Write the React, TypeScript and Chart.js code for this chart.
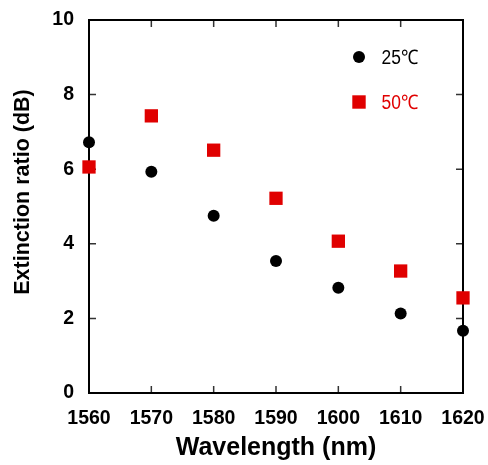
import { useEffect, useRef } from "react";
import { Chart, registerables } from "chart.js";

Chart.register(...registerables);

const wavelengths = [1560, 1570, 1580, 1590, 1600, 1610, 1620];
const er25C = [6.72, 5.93, 4.75, 3.54, 2.82, 2.13, 1.67];
const er50C = [6.06, 7.43, 6.51, 5.22, 4.07, 3.27, 2.55];
const seriesLabels = ["25\u2103", "50\u2103"];
const seriesColors = ["#000000", "#e00000"];
const xTitle = "Wavelength (nm)";
const yTitle = "Extinction ratio (dB)";
const xMin = 1560;
const xMax = 1620;
const xStep = 10;
const yMin = 0;
const yMax = 10;
const yStep = 2;

const FONT = "'Liberation Sans', Arial, sans-serif";

export default function App() {
  const ref = useRef<HTMLCanvasElement>(null);

  useEffect(() => {
    document.body.style.margin = "0";
    const canvas = ref.current;
    if (!canvas) return;

    const framePlugin = {
      id: "frameTicks",
      beforeDatasetsDraw(chart: any) {
        const { ctx, chartArea, scales } = chart;
        const { left, right, top, bottom } = chartArea;
        const x = scales.x;
        const y = scales.y;
        ctx.save();
        ctx.strokeStyle = "#333";
        ctx.lineWidth = 1.5;
        ctx.beginPath();
        x.ticks.forEach((t: any) => {
          const px = x.getPixelForValue(t.value);
          ctx.moveTo(px, bottom);
          ctx.lineTo(px, bottom - 7);
          ctx.moveTo(px, top);
          ctx.lineTo(px, top + 7);
        });
        y.ticks.forEach((t: any) => {
          const py = y.getPixelForValue(t.value);
          ctx.moveTo(left, py);
          ctx.lineTo(left + 7, py);
          ctx.moveTo(right, py);
          ctx.lineTo(right - 7, py);
        });
        ctx.stroke();
        ctx.strokeStyle = "#000";
        ctx.lineWidth = 2;
        ctx.strokeRect(left, top, right - left, bottom - top);
        ctx.restore();
      },
      afterDraw(chart: any) {
        const { ctx, chartArea } = chart;
        ctx.save();
        // y axis title
        ctx.fillStyle = "#000";
        ctx.font = `bold 21.5px ${FONT}`;
        ctx.textAlign = "center";
        ctx.textBaseline = "middle";
        ctx.translate(23, 192);
        ctx.rotate(-Math.PI / 2);
        ctx.fillText(yTitle, 0, 0);
        ctx.restore();

        // legend
        const lx = chartArea.right - 104;
        const rows = [chartArea.top + 37, chartArea.top + 82];
        chart.data.datasets.forEach((ds: any, i: number) => {
          const cy = rows[i];
          ctx.save();
          ctx.fillStyle = ds.backgroundColor;
          if (ds.pointStyle === "rect") {
            ctx.fillRect(lx - 6.7, cy - 6.7, 13.4, 13.4);
          } else {
            ctx.beginPath();
            ctx.arc(lx, cy, 6, 0, Math.PI * 2);
            ctx.fill();
          }
          ctx.font = `20px ${FONT}`;
          ctx.textAlign = "left";
          ctx.textBaseline = "alphabetic";
          ctx.translate(lx + 22.5, cy + 7);
          ctx.scale(0.87, 1);
          ctx.fillText(ds.label, 0, 0);
          ctx.restore();
        });
      },
    };

    const chart = new Chart(canvas, {
      type: "scatter",
      data: {
        datasets: [
          {
            label: seriesLabels[0],
            data: wavelengths.map((w, i) => ({ x: w, y: er25C[i] })),
            backgroundColor: seriesColors[0],
            borderColor: seriesColors[0],
            pointStyle: "circle",
            pointRadius: 6,
            pointHoverRadius: 6,
            borderWidth: 0,
            clip: false,
          },
          {
            label: seriesLabels[1],
            data: wavelengths.map((w, i) => ({ x: w, y: er50C[i] })),
            backgroundColor: seriesColors[1],
            borderColor: seriesColors[1],
            pointStyle: "rect",
            pointRadius: 9.4,
            pointHoverRadius: 9.4,
            borderWidth: 0,
            clip: false,
          },
        ],
      },
      options: {
        responsive: false,
        devicePixelRatio: 1,
        animation: false,
        events: [],
        layout: { padding: { left: 0, top: 20, right: 25, bottom: 0 } },
        plugins: {
          legend: { display: false },
          tooltip: { enabled: false },
        },
        scales: {
          x: {
            type: "linear",
            min: xMin,
            max: xMax,
            grid: { display: false, drawTicks: false },
            border: { display: false },
            ticks: {
              stepSize: xStep,
              padding: 14,
              color: "#000",
              font: { family: FONT, size: 19.5, weight: "bold" },
              maxRotation: 0,
              callback: (v: any) => String(v),
            },
            title: {
              display: true,
              text: xTitle,
              color: "#000",
              font: { family: FONT, size: 25, weight: "bold" },
              padding: { top: 0, bottom: 2 },
            },
            afterFit(scale: any) {
              scale.height = 72;
              scale.paddingLeft = 0;
              scale.paddingRight = 0;
            },
          },
          y: {
            type: "linear",
            min: yMin,
            max: yMax,
            grid: { display: false, drawTicks: false },
            border: { display: false },
            ticks: {
              stepSize: yStep,
              padding: 15,
              color: "#000",
              font: { family: FONT, size: 19.5, weight: "bold" },
              callback: (v: any) => String(v),
            },
            afterFit(scale: any) {
              scale.width = 89;
              scale.paddingTop = 0;
              scale.paddingBottom = 0;
            },
          },
        },
      },
      plugins: [framePlugin],
    } as any);

    return () => chart.destroy();
  }, []);

  return (
    <div style={{ position: "absolute", left: 0, top: 0, width: 488, height: 465 }}>
      <canvas ref={ref} width={488} height={465} style={{ width: 488, height: 465 }} />
    </div>
  );
}
